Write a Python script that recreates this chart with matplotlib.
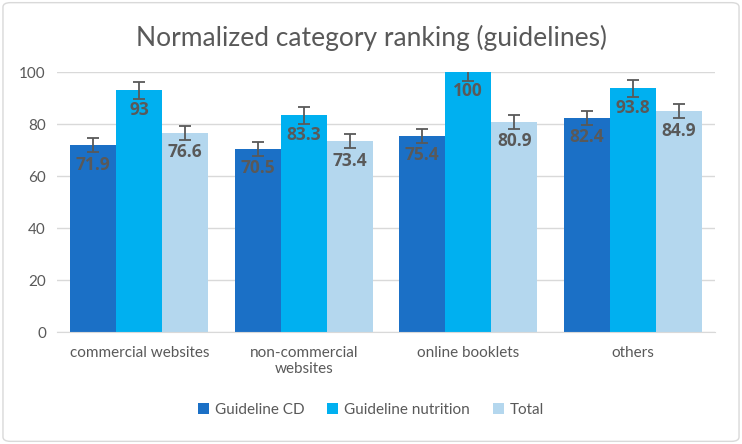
import matplotlib
matplotlib.use("Agg")
import matplotlib.pyplot as plt
import numpy as np
from matplotlib.patches import FancyBboxPatch

plt.rcParams['font.family'] = ['Lato', 'DejaVu Sans']

categories = ["commercial websites", "non-commercial\nwebsites", "online booklets", "others"]
series_names = ["Guideline CD", "Guideline nutrition", "Total"]
cd = [71.9, 70.5, 75.4, 82.4]
nutrition = [93, 83.3, 100, 93.8]
total = [76.6, 73.4, 80.9, 84.9]
err_cd = [2.7, 2.7, 2.7, 2.7]
err_nut = [3.3, 3.3, 3.3, 3.3]
err_tot = [2.7, 2.7, 2.7, 2.7]
yticks = [0, 20, 40, 60, 80, 100]

colors = ["#1B70C6", "#00B0F0", "#B4D7EE"]
gray = "#595959"

fig = plt.figure(figsize=(7.42, 4.44), dpi=100)
ax = fig.add_axes([57/742, 1-332/444, (715-57)/742, (332-72)/444])

x = np.arange(len(categories))
w = 0.28
for i, (vals, errs) in enumerate([(cd, err_cd), (nutrition, err_nut), (total, err_tot)]):
    pos = x + (i - 1) * w
    ax.bar(pos, vals, w, color=colors[i], label=series_names[i], zorder=2)
    ax.errorbar(pos, vals, yerr=errs, fmt='none', ecolor=gray, elinewidth=1.3,
                capsize=4.5, capthick=1.3, zorder=3)
    for p, v in zip(pos, vals):
        ax.text(p, v - 7.5, f"{v:g}", ha='center', va='center', color=gray,
                fontsize=12.5, fontweight='bold', family=['Open Sans', 'DejaVu Sans'], zorder=4)

ax.set_xlim(-0.5, 3.5)
ax.set_ylim(0, 100)
ax.set_yticks(yticks)
ax.set_xticks(x)
ax.set_xticklabels(categories, color=gray, fontsize=11)
ax.tick_params(axis='y', colors=gray, labelsize=11, length=0, pad=8)
ax.tick_params(axis='x', length=0, pad=10)
ax.grid(axis='y', color='#D9D9D9', linewidth=1, zorder=0)
for s in ['top', 'right', 'left']:
    ax.spines[s].set_visible(False)
ax.spines['bottom'].set_color('#D9D9D9')

fig.text(0.5, 1-38/444, "Normalized category ranking (guidelines)", ha='center', va='center',
         color=gray, fontsize=19)

fig.legend(loc='center', bbox_to_anchor=(0.5, 1-410/444), ncol=3, frameon=False,
           fontsize=11, labelcolor=gray, handlelength=0.7, handleheight=0.7,
           columnspacing=1.5, handletextpad=0.4)

border = FancyBboxPatch((0.004, 0.006), 0.992, 0.988, boxstyle="round,pad=0,rounding_size=0.01",
                        transform=fig.transFigure, facecolor='none', edgecolor='#D9D9D9', linewidth=1)
fig.patches.append(border)

fig.savefig("out.png", dpi=100)
